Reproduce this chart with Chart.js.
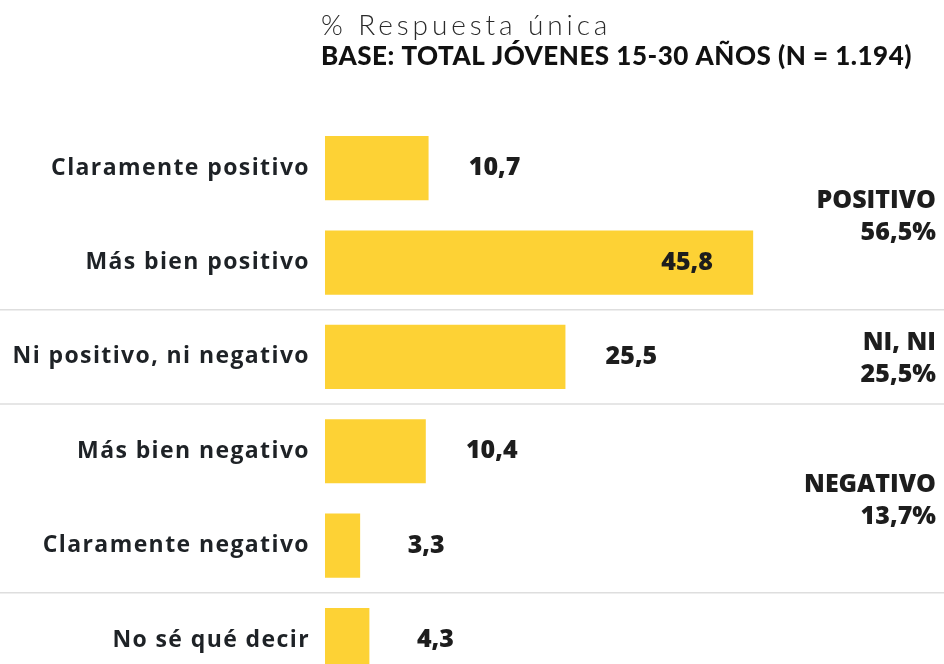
<!DOCTYPE html>
<html>
<head>
<meta charset="utf-8">
<script src="https://cdn.jsdelivr.net/npm/chart.js@4.4.1/dist/chart.umd.min.js"></script>
<style>
  html, body { margin: 0; padding: 0; background: #fff; overflow: hidden; }
  #wrap { position: relative; width: 944px; height: 716px; }
</style>
</head>
<body>
<div id="wrap"><canvas id="bars" width="944" height="716"></canvas></div>
<script>
const title = '% Respuesta única';
const subtitle = 'BASE: TOTAL JÓVENES 15-30 AÑOS (N = 1.194)';

const categories = [
  'Claramente positivo',
  'Más bien positivo',
  'Ni positivo, ni negativo',
  'Más bien negativo',
  'Claramente negativo',
  'No sé qué decir'
];
const values = [10.7, 45.8, 25.5, 10.4, 3.3, 4.3];

// summary blocks on the right, by category index range
const groupNames = ['POSITIVO', 'NI, NI', 'NEGATIVO'];
const groupTotals = [56.5, 25.5, 13.7];
const groupFrom = [0, 2, 3];
const groupTo = [1, 2, 4];

const YELLOW = '#fdd235';
const INK = '#1d1d1d';
const fmt = v => v.toFixed(1).replace('.', ',');

// the original typeface is wider than anything installed, open it up a bit
const spacing = {
  id: 'spacing',
  beforeDraw(chart) { chart.ctx.letterSpacing = '1.4px'; },
  afterDraw(chart) { chart.ctx.letterSpacing = '0px'; }
};

const headerPlugin = {
  id: 'header',
  afterDraw(chart) {
    const ctx = chart.ctx;
    ctx.save();
    ctx.textAlign = 'left';
    ctx.textBaseline = 'alphabetic';
    ctx.fillStyle = '#2a2a2a';
    ctx.font = '300 28px Lato';
    ctx.letterSpacing = '3.9px';
    ctx.fillText(title, 321, 35);
    ctx.fillStyle = '#111';
    ctx.font = '900 26px Lato';
    ctx.letterSpacing = '0.5px';
    ctx.fillText(subtitle, 321, 65);
    ctx.restore();
  }
};

const separatorPlugin = {
  id: 'separators',
  beforeDatasetsDraw(chart) {
    const ctx = chart.ctx;
    const y = chart.scales.y;
    ctx.save();
    ctx.strokeStyle = '#dedede';
    ctx.lineWidth = 1.5;
    groupTo.forEach(i => {
      if (i + 1 >= categories.length) return;
      const yy = (y.getPixelForValue(i) + y.getPixelForValue(i + 1)) / 2;
      ctx.beginPath();
      ctx.moveTo(0, yy);
      ctx.lineTo(chart.width, yy);
      ctx.stroke();
    });
    ctx.restore();
  }
};

const valueLabels = {
  id: 'valueLabels',
  afterDatasetsDraw(chart) {
    const ctx = chart.ctx;
    const meta = chart.getDatasetMeta(0);
    ctx.save();
    ctx.font = '800 25px "Open Sans"';
    ctx.letterSpacing = '0px';
    ctx.fillStyle = INK;
    ctx.textAlign = 'center';
    ctx.textBaseline = 'middle';
    meta.data.forEach((bar, i) => {
      const inside = values[i] > 40;
      const x = inside ? bar.x - 66 : bar.x + 66;
      ctx.fillText(fmt(values[i]), x, bar.y);
    });
    ctx.restore();
  }
};

const groupLabels = {
  id: 'groupLabels',
  afterDraw(chart) {
    const ctx = chart.ctx;
    const y = chart.scales.y;
    ctx.save();
    ctx.font = '800 25px "Open Sans"';
    ctx.letterSpacing = '0px';
    ctx.fillStyle = INK;
    ctx.textAlign = 'right';
    ctx.textBaseline = 'middle';
    groupNames.forEach((name, g) => {
      const cy = (y.getPixelForValue(groupFrom[g]) + y.getPixelForValue(groupTo[g])) / 2;
      ctx.fillText(name, 936, cy - 14);
      ctx.fillText(fmt(groupTotals[g]) + '%', 936, cy + 18);
    });
    ctx.restore();
  }
};

new Chart(document.getElementById('bars'), {
  type: 'bar',
  data: {
    labels: categories,
    datasets: [{
      data: values,
      backgroundColor: YELLOW,
      borderWidth: 0,
      base: -0.5,
      barPercentage: 0.68,
      categoryPercentage: 1
    }]
  },
  options: {
    indexAxis: 'y',
    responsive: false,
    animation: false,
    layout: { padding: { top: 121, bottom: 15, left: 0, right: 152 } },
    plugins: { legend: { display: false }, tooltip: { enabled: false } },
    scales: {
      x: { display: false, min: -0.5, max: 50 },
      y: {
        afterFit: axis => { axis.width = 325; },
        grid: { display: false, drawTicks: false },
        border: { display: false },
        ticks: {
          padding: 15,
          color: '#1e2226',
          font: { family: '"Open Sans"', size: 23, weight: 'bold' }
        }
      }
    }
  },
  plugins: [spacing, separatorPlugin, valueLabels, groupLabels, headerPlugin]
});
</script>
</body>
</html>
